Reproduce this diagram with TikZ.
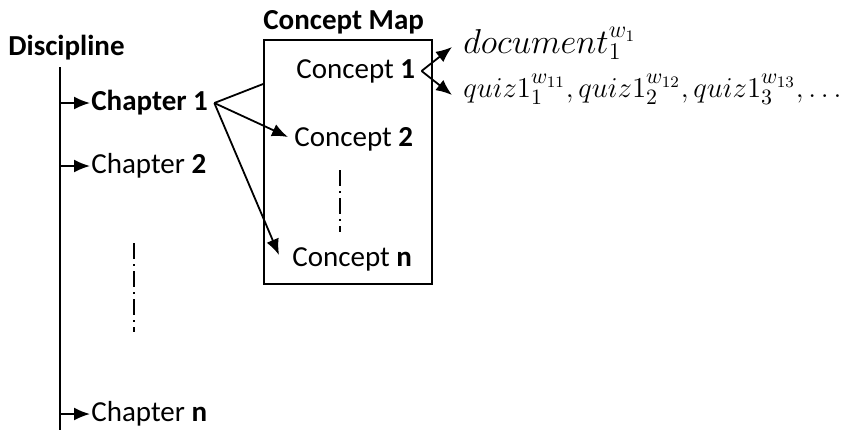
\documentclass[tikz,border=0pt]{standalone}
\usepackage{fontspec}
\setmainfont{Carlito}
\usetikzlibrary{arrows.meta,positioning,calc}

\begin{document}
\begin{tikzpicture}[x=0.5pt, y=-0.5pt,
    lbl/.style={inner sep=0pt, font=\fontsize{14.5}{17}\selectfont},
    head/.style={lbl, font=\fontsize{14.5}{17}\selectfont\bfseries},
    mth/.style={inner sep=0pt, font=\fontsize{15.5}{18}\selectfont},
    link/.style={line width=0.9pt},
    arrow/.style={-{Latex[length=8pt,width=6.5pt]}, line width=0.9pt},
    dots/.style={line width=0.9pt, dash pattern=on 8pt off 2.5pt on 1pt off 2.5pt}
]
\useasboundingbox (0,0) rectangle (860,430);

% Discipline with its chapters
\node[head, anchor=west] (disc) at (8,48) {Discipline};
\coordinate (trunk) at (60,67);
\coordinate (trunkend) at (60,430);
\draw[link] (trunk) -- (trunkend);

\node[lbl, anchor=west] (ch1) at (91,103) {\textbf{Chapter 1}};
\node[lbl, anchor=west] (ch2) at (91,166) {Chapter \textbf{2}};
\node[lbl, anchor=west] (chn) at (91,414) {Chapter \textbf{n}};

\foreach \c in {ch1,ch2,chn}
    \draw[arrow, shorten >=0.5pt] (trunk |- \c.west) -- (\c.west);

\coordinate (chtop) at (134,243);
\coordinate (chbot) at (134,332);
\draw[dots] (chtop) -- (chbot);

% Concept map box
\node[draw, link, minimum width=84pt, minimum height=122pt] (map) at (348,162) {};
\node[head, anchor=west] (title) at (263,22) {Concept Map};

\node[lbl, anchor=west] (c1) at (296,71) {Concept \textbf{1}};
\node[lbl, anchor=west] (c2) at (294,139) {Concept \textbf{2}};
\node[lbl, anchor=west] (cn) at (292,259) {Concept \textbf{n}};

\coordinate (ctop) at (340,170);
\coordinate (cbot) at (340,232);
\draw[dots] (ctop) -- (cbot);

% Chapter 1 to its concepts
\coordinate (fork) at ([xshift=3pt]ch1.east);
\coordinate (c1in) at (map.west |- 0,84);
\draw[link] (fork) -- (c1in);
\draw[arrow] (fork) -- ([xshift=-3pt,yshift=1pt]c2.west);
\draw[arrow] (fork) -- ([xshift=-6.5pt,yshift=2pt]cn.west);

% Concept 1 resources
\node[mth, anchor=base west, font=\fontsize{16.5}{19}\selectfont] (doc) at (463,53) {$document_1^{w_1}$};
\node[mth, anchor=base west] (quiz) at (463,97)
    {$quiz1_1^{w_{11}}, quiz1_2^{w_{12}}, quiz1_3^{w_{13}}, \ldots$};

\coordinate (cfork) at ([xshift=3pt]c1.east);
\draw[arrow] (cfork) -- ([xshift=-5.5pt,yshift=3pt]doc.base west);
\draw[arrow] (cfork) -- ([xshift=-5.5pt,yshift=1pt]quiz.base west);

\end{tikzpicture}
\end{document}
